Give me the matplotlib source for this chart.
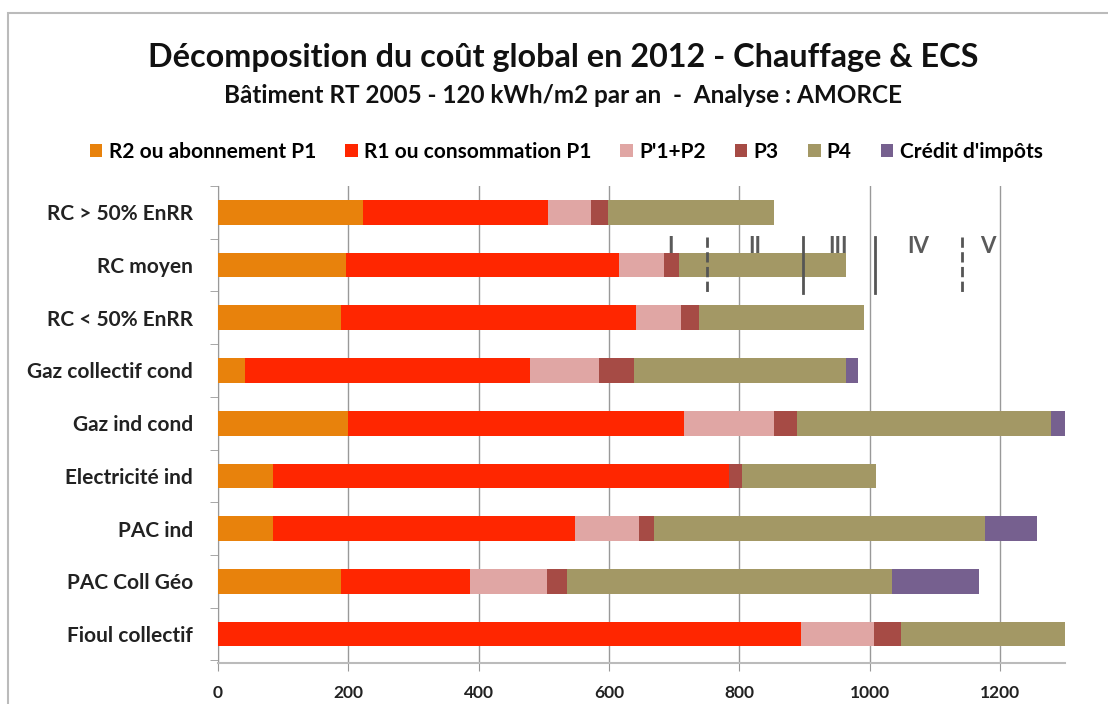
import numpy as np
import matplotlib
matplotlib.use('Agg')
import matplotlib.pyplot as plt
from matplotlib.patches import Rectangle

plt.rcParams['font.family'] = ['Lato', 'DejaVu Sans']

# data
categories = ['RC > 50% EnRR', 'RC moyen', 'RC < 50% EnRR', 'Gaz collectif cond',
              'Gaz ind cond', 'Electricité ind', 'PAC ind', 'PAC Coll Géo',
              'Fioul collectif']
series = ['R2 ou abonnement P1', 'R1 ou consommation P1', "P'1+P2", 'P3', 'P4',
          "Crédit d'impôts"]
r2 = [222, 197, 188, 42, 200, 85, 85, 188, 0]
r1 = [285, 418, 454, 437, 515, 699, 463, 198, 894]
p1p2 = [66, 69, 69, 106, 138, 0, 98, 119, 112]
p3 = [26, 23, 27, 53, 35, 20, 23, 31, 42]
p4 = [254, 257, 253, 326, 390, 205, 508, 498, 260]
credit = [0, 0, 0, 18, 22, 0, 79, 133, 0]
colors = ['#E8820C', '#FF2600', '#E0A6A4', '#A64B45', '#A39865', '#76608F']

# classes on the "RC moyen" row
class_lines = [750, 897, 1008, 1142]
class_styles = ['--', '-', '-', '--']
class_labels = ['I', 'II', 'III', 'IV', 'V']
class_label_x = [695, 824, 951, 1074, 1182]

fig = plt.figure(figsize=(11.08, 7.04), dpi=100)
fig.patches.append(Rectangle((0.007, -0.1), 1.1, 1.082, transform=fig.transFigure,
                             fill=False, edgecolor='#BBBBBB', linewidth=1.5))
ax = fig.add_axes([0.1968, 0.0582, 0.7646, 0.6776])

y = np.arange(len(categories))
left = np.zeros(len(categories))
for vals, name, c in zip([r2, r1, p1p2, p3, p4, credit], series, colors):
    vals = np.array(vals, dtype=float)
    ax.barh(y, vals, left=left, height=0.47, color=c, label=name, zorder=3)
    left += vals

ax.set_xlim(0, 1300)
ax.set_ylim(8.55, -0.47)
ax.set_xticks(np.arange(0, 1300, 200))
ax.set_yticks(y)
ax.set_yticklabels(categories, fontsize=15, fontweight='bold', color='#222222')
ax.set_yticks(np.arange(-0.5, 9, 1), minor=True)
ax.tick_params(axis='y', which='major', length=0, pad=18)
ax.tick_params(axis='y', which='minor', length=6, color='#999999', direction='out')
ax.tick_params(axis='x', length=6, color='#999999', labelsize=12.5, pad=10)
for lab in ax.get_xticklabels():
    lab.set_fontweight('bold')
    lab.set_color('#222222')
ax.grid(axis='x', color='#999999', linewidth=1, zorder=0)
for s in ['top', 'right']:
    ax.spines[s].set_visible(False)
ax.spines['left'].set_color('#999999')
ax.spines['bottom'].set_color('#BBBBBB')
ax.spines['bottom'].set_linewidth(1.5)

# class limits (row "RC moyen")
row = 1
for xv, ls in zip(class_lines, class_styles):
    ax.plot([xv, xv], [row - 0.53, row + 0.53], color='#555555', linestyle=ls,
            linewidth=2, zorder=4, clip_on=False)
for xv, t in zip(class_label_x, class_labels):
    ax.text(xv, row - 0.36, t, ha='center', va='center', fontsize=16,
            fontweight='bold', color='#5a5a5a', zorder=5)

fig.text(0.508, 0.918, 'Décomposition du coût global en 2012 - Chauffage & ECS',
         ha='center', va='center', fontsize=23.3, fontweight='bold', color='#111111')
fig.text(0.508, 0.865, 'Bâtiment RT 2005 - 120 kWh/m2 par an  -  Analyse : AMORCE',
         ha='center', va='center', fontsize=17.5, fontweight='bold', color='#111111')

fig.legend(loc='center', bbox_to_anchor=(0.511, 0.784), ncol=6, frameon=False,
           prop={'size': 15, 'weight': 'bold'}, handlelength=0.6,
           handleheight=0.6, handletextpad=0.3, columnspacing=1.4)

fig.savefig('out.png', dpi=100)
